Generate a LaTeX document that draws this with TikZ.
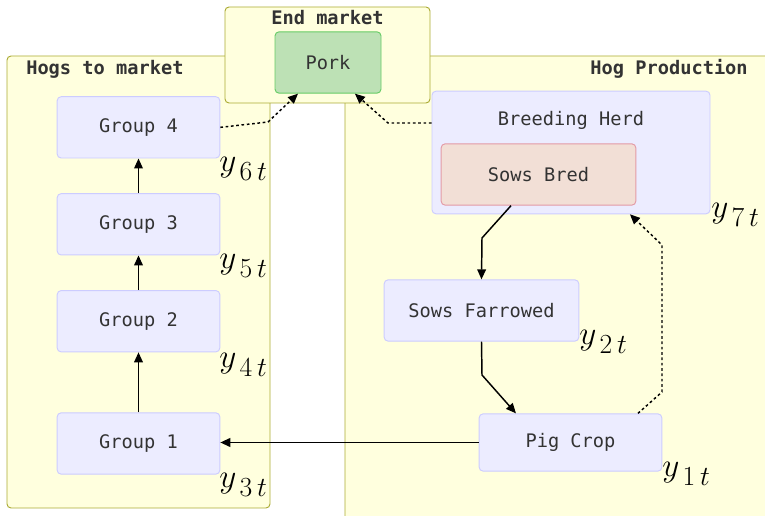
\documentclass[tikz,border=0pt]{standalone}
\usepackage{fontspec}
\setmonofont{DejaVu Sans Mono}
\usetikzlibrary{arrows.meta,positioning}

\definecolor{clfill}{HTML}{FFFFDE}
\definecolor{cldraw}{HTML}{AAAA33}
\definecolor{ndfill}{HTML}{ECECFF}
\definecolor{nddraw}{HTML}{CCCCFF}
\definecolor{txt}{HTML}{333333}
\definecolor{porkfill}{HTML}{BDE1B5}
\definecolor{porkdraw}{HTML}{66CC66}
\definecolor{bredfill}{HTML}{F2DFD6}
\definecolor{breddraw}{HTML}{E39AA6}

\newcommand{\ysub}[1]{$y_{\lower3pt\hbox{$\scriptstyle\,#1\,t$}}$}

\tikzset{
  cluster/.style={draw=cldraw,fill=clfill,rounded corners=3pt,line width=0.7pt},
  cltitle/.style={inner sep=0pt,text=txt,font=\ttfamily\bfseries\fontsize{14}{16}\selectfont},
  box/.style={draw=nddraw,fill=ndfill,rounded corners=3pt,line width=0.7pt,
    text=txt,font=\ttfamily\fontsize{14}{16}\selectfont,
    minimum width=122pt,minimum height=46pt,inner sep=0pt},
  ylab/.style={inner sep=0pt,anchor=north west,font=\Huge},
  flow/.style={->,line width=1.1pt},
  feed/.style={->,line width=1.1pt,dash pattern=on 2pt off 2pt}
}

\begin{document}
\begin{tikzpicture}[x=0.75pt,y=-0.75pt,>={Triangle[length=7.5pt,width=6.5pt]}]
\useasboundingbox (0,0) rectangle (765,516);

% clusters
\draw[cluster] (7,56) rectangle (270,508);
\draw[cluster] (345,56) rectangle (775,526);
\draw[cluster] (225,7) rectangle (430,103);
\node[cltitle,anchor=west] (hm) at (26,69) {Hogs to market};
\node[cltitle,anchor=east] (hp) at (748,69) {Hog Production};
\node[cltitle] (em) at (327.5,18) {End market};

% end market
\node[box,fill=porkfill,draw=porkdraw,minimum width=79.5pt] (pork) at (328,62.5) {Pork};

% hogs to market
\node[box] (g1) at (138.5,443.5) {Group 1};
\node[box] (g2) [above=45pt of g1] {Group 2};
\node[box] (g3) [above=26pt of g2] {Group 3};
\node[box] (g4) [above=26pt of g3] {Group 4};

% hog production
\node[box,minimum width=208.5pt,minimum height=92pt] (bh) at (571,152.5) {};
\node[inner sep=0pt,text=txt,font=\ttfamily\fontsize{14}{16}\selectfont] (bhl) at (571,120) {Breeding Herd};
\node[box,fill=bredfill,draw=breddraw,minimum width=146pt] (sb) at (538.5,174.5) {Sows Bred};
\node[box,minimum width=146pt] (sf) at (481.5,310.5) {Sows Farrowed};
\node[box,minimum width=137pt,minimum height=43pt] (pc) at (570.5,442.5) {Pig Crop};

% labels
\node[ylab] (y6) at (219,157) {\ysub{6}};
\node[ylab] (y5) at (219,254) {\ysub{5}};
\node[ylab] (y4) at (219,353) {\ysub{4}};
\node[ylab] (y3) at (219,473) {\ysub{3}};
\node[ylab] (y2) at (579,330) {\ysub{2}};
\node[ylab] (y1) at (662,462) {\ysub{1}};
\node[ylab] (y7) at (711,203) {\ysub{7}};

% flows
\draw[flow] (g1) -- (g2);
\draw[flow] (g2) -- (g3);
\draw[flow] (g3) -- (g4);
\draw[flow] ([xshift=-20.6pt]sb.south) -- (482,238) -- (sf.north);
\draw[flow] (sf.south) -- (482,375) -- ([xshift=-40.9pt]pc.north);
\draw[flow,line width=1.4pt] (pc.west) -- (pc.west -| g1.east);
\draw[feed] ([xshift=50.6pt]pc.north) -- (662,392) -- (662,245) -- ([xshift=44.2pt]bh.south);
\draw[feed] (g4.east) -- (268,122) -- ([xshift=-22.5pt]pork.south);
\draw[feed] (bh.west |- 0,123) -- (388,123) -- ([xshift=20.2pt]pork.south);
\end{tikzpicture}
\end{document}
